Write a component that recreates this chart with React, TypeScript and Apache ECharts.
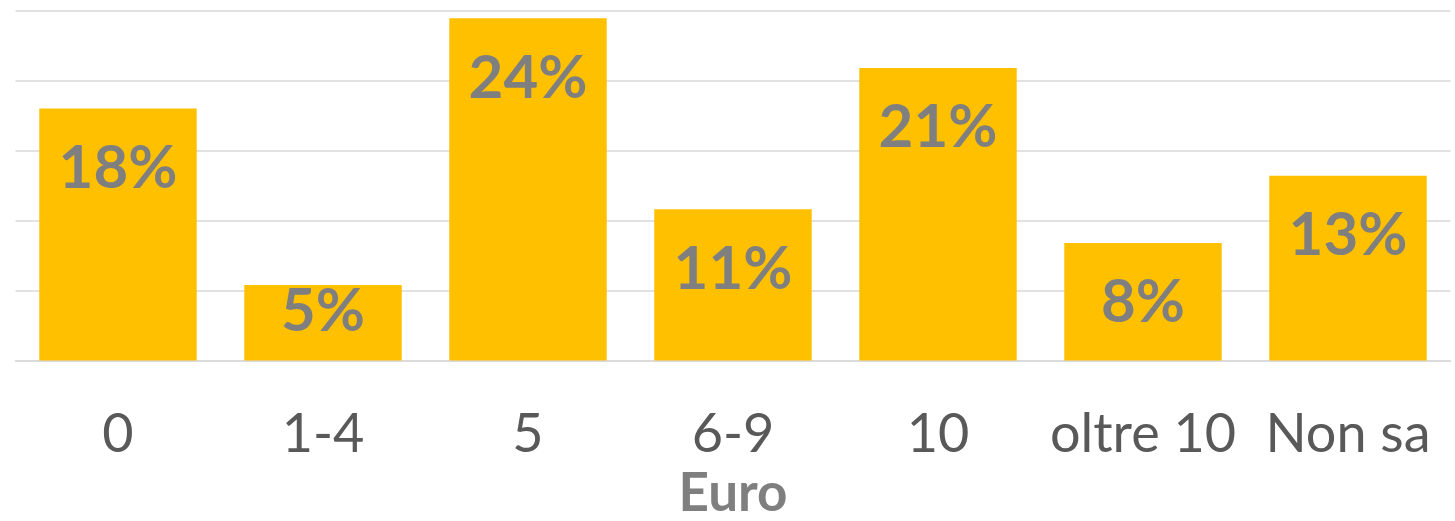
import React, { useEffect, useRef } from "react";
import * as echarts from "echarts";

const categories = ["0", "1-4", "5", "6-9", "10", "oltre 10", "Non sa"];
const values = [18.0, 5.4, 24.45, 10.8, 20.9, 8.4, 13.2];
const axisName = "Euro";
const yMin = 0;
const yMax = 25;
const yInterval = 5;

export default function App() {
  const ref = useRef<HTMLDivElement>(null);
  useEffect(() => {
    document.body.style.margin = "0";
    if (!ref.current) return;
    const chart = echarts.init(ref.current, undefined, { renderer: "svg" });
    const labelFont = {
      fontFamily: "Lato",
      fontWeight: "bold" as const,
      fontSize: 60,
      color: "#7F7F7F",
    };
    chart.setOption({
      animation: false,
      grid: {
        left: 15.5,
        right: 4.5,
        top: 10.5,
        bottom: 160.4,
        containLabel: false,
        outerBoundsMode: "none",
      },
      xAxis: {
        type: "category",
        data: categories,
        axisTick: { show: false },
        axisLine: { lineStyle: { color: "#D9D9D9", width: 1.5 } },
        axisLabel: {
          fontFamily: "Lato",
          fontSize: 54,
          color: "#595959",
          margin: 44,
          interval: 0,
        },
        name: axisName,
        nameLocation: "middle",
        nameGap: 107,
        nameTextStyle: {
          fontFamily: "Lato",
          fontWeight: "bold",
          fontSize: 53,
          lineHeight: 40,
          color: "#7F7F7F",
        },
      },
      yAxis: {
        type: "value",
        min: yMin,
        max: yMax,
        interval: yInterval,
        axisLabel: { show: false },
        axisLine: { show: false },
        axisTick: { show: false },
        splitLine: { lineStyle: { color: "#D9D9D9", width: 1.5 } },
      },
      series: [
        {
          type: "bar",
          barCategoryGap: "23.2%",
          itemStyle: { color: "#FFC000" },
          data: values.map((v) =>
            v < 7
              ? { value: v, label: { position: ["50%", 23] } }
              : { value: v }
          ),
          label: {
            show: true,
            position: ["50%", 56.5],
            align: "center",
            verticalAlign: "middle",
            ...labelFont,
            formatter: (p: any) => Math.round(p.value) + "%",
          },
        },
      ],
    });
    return () => chart.dispose();
  }, []);
  return <div ref={ref} style={{ width: 1455, height: 521 }} />;
}
